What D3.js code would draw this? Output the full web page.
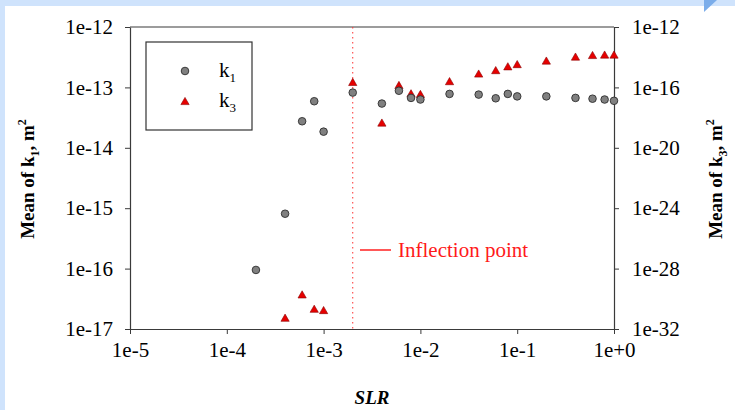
<!DOCTYPE html>
<html>
<head>
<meta charset="utf-8">
<script src="https://cdn.jsdelivr.net/npm/d3@7"></script>
<style>
  html, body { margin: 0; padding: 0; background: #ffffff; }
  svg { display: block; }
  text { font-family: "Liberation Serif", "Times New Roman", serif; }
</style>
</head>
<body>
<svg id="chart" width="735" height="410"></svg>
<script>
// Solid-to-liquid ratio (SLR) sampled for each permeability series
const slrK1 = [2e-4, 4e-4, 6e-4, 8e-4, 1e-3, 2e-3, 4e-3, 6e-3, 8e-3, 1e-2, 2e-2, 4e-2, 6e-2, 8e-2, 0.1, 0.2, 0.4, 0.6, 0.8, 1.0];
const meanK1 = [9.5e-17, 8.1e-16, 2.75e-14, 5.9e-14, 1.85e-14, 8.2e-14, 5.4e-14, 8.8e-14, 6.7e-14, 6.3e-14, 7.8e-14, 7.6e-14, 6.6e-14, 7.8e-14, 7.1e-14, 7.1e-14, 6.7e-14, 6.5e-14, 6.3e-14, 6.0e-14];

const slrK3 = [4e-4, 6e-4, 8e-4, 1e-3, 2e-3, 4e-3, 6e-3, 8e-3, 1e-2, 2e-2, 4e-2, 6e-2, 8e-2, 0.1, 0.2, 0.4, 0.6, 0.8, 1.0];
const meanK3 = [5.6e-32, 1.96e-30, 2.2e-31, 1.8e-31, 2.3e-16, 4.7e-19, 1.45e-16, 4.1e-17, 3.7e-17, 2.6e-16, 8.3e-16, 1.4e-15, 2.5e-15, 3.5e-15, 6e-15, 1.1e-14, 1.4e-14, 1.5e-14, 1.5e-14];

// Axis tick values
const xTicks = [1e-5, 1e-4, 1e-3, 1e-2, 1e-1, 1];
const yLeftTicks = [1e-17, 1e-16, 1e-15, 1e-14, 1e-13, 1e-12];
const yRightTicks = [1e-32, 1e-28, 1e-24, 1e-20, 1e-16, 1e-12];

const inflectionSLR = [2e-3];

const svg = d3.select("#chart");

// page frame
svg.append("rect").attr("x", 0).attr("y", 0).attr("width", 735).attr("height", 410).attr("fill", "#ffffff");
svg.append("rect").attr("x", 0).attr("y", 0).attr("width", 735).attr("height", 6).attr("fill", "#cfe3fc");
svg.append("rect").attr("x", 0).attr("y", 0).attr("width", 5).attr("height", 410).attr("fill", "#cfe3fc");
svg.append("path").attr("d", "M704,0L717,0L704,12Z").attr("fill", "#7badea");

const L = 130, R = 614, T = 27, B = 329;

const x = d3.scaleLog().domain([1e-5, 1]).range([L, R]);
const y1 = d3.scaleLog().domain([1e-17, 1e-12]).range([B, T]);
const y3 = d3.scaleLog().domain([1e-32, 1e-12]).range([B, T]);

const sciFmt = d => {
  const e = Math.round(Math.log10(d));
  return "1e" + (e >= 0 ? "+" + e : e);
};

const axisColor = "#3a3a3a";

function styleAxis(g) {
  g.select(".domain").attr("stroke", axisColor).attr("stroke-width", 1.2);
  g.selectAll(".tick line").attr("stroke", axisColor).attr("stroke-width", 1);
  g.selectAll(".tick text").attr("fill", "#000").attr("font-size", 21)
    .attr("font-family", "'Liberation Serif', 'Times New Roman', serif");
}

svg.append("g").attr("transform", `translate(0,${B})`)
  .call(d3.axisBottom(x).tickValues(xTicks).tickFormat(sciFmt).tickSize(5).tickSizeOuter(0).tickPadding(8))
  .call(styleAxis);

svg.append("g").attr("transform", `translate(${L},0)`)
  .call(d3.axisLeft(y1).tickValues(yLeftTicks).tickFormat(sciFmt).tickSize(5).tickSizeOuter(0).tickPadding(12))
  .call(styleAxis);

svg.append("g").attr("transform", `translate(${R},0)`)
  .call(d3.axisRight(y3).tickValues(yRightTicks).tickFormat(sciFmt).tickSize(5).tickSizeOuter(0).tickPadding(13))
  .call(styleAxis);

// top frame line
svg.append("line").attr("x1", L).attr("x2", R).attr("y1", T).attr("y2", T)
  .attr("stroke", axisColor).attr("stroke-width", 1.2);

// inflection point marker line
svg.selectAll("line.inflection").data(inflectionSLR).join("line")
  .attr("class", "inflection")
  .attr("x1", d => x(d)).attr("x2", d => x(d))
  .attr("y1", T).attr("y2", B)
  .attr("stroke", "#ff3030").attr("stroke-width", 1)
  .attr("stroke-dasharray", "1.5,3.5");

// triangle path centred on its bounding box
const triPath = (s) => `M0,${-s * 0.48}L${s * 0.55},${s * 0.48}L${-s * 0.55},${s * 0.48}Z`;

// k3 series (red triangles, right axis)
svg.append("g").selectAll("path").data(slrK3.map((s, i) => [s, meanK3[i]])).join("path")
  .attr("d", triPath(7.5))
  .attr("transform", d => `translate(${x(d[0])},${y3(d[1])})`)
  .attr("fill", "#e60000").attr("stroke", "#8a0000").attr("stroke-width", 0.6);

// k1 series (grey circles, left axis)
svg.append("g").selectAll("circle").data(slrK1.map((s, i) => [s, meanK1[i]])).join("circle")
  .attr("cx", d => x(d[0])).attr("cy", d => y1(d[1])).attr("r", 3.8)
  .attr("fill", "#808080").attr("stroke", "#2e2e2e").attr("stroke-width", 0.9);

// legend
const lg = svg.append("g");
lg.append("rect").attr("x", 146).attr("y", 42).attr("width", 106).attr("height", 88)
  .attr("fill", "#fff").attr("stroke", "#333").attr("stroke-width", 1.2);
lg.append("circle").attr("cx", 185).attr("cy", 71).attr("r", 3.8)
  .attr("fill", "#808080").attr("stroke", "#2e2e2e").attr("stroke-width", 0.9);
lg.append("path").attr("d", triPath(7.5)).attr("transform", "translate(185,101)")
  .attr("fill", "#e60000").attr("stroke", "#8a0000").attr("stroke-width", 0.6);

const legendItems = [["k", "1", 77], ["k", "3", 107]];
legendItems.forEach(([base, sub, yy]) => {
  const t = lg.append("text").attr("x", 219).attr("y", yy).attr("font-size", 21).attr("fill", "#000");
  t.append("tspan").text(base);
  t.append("tspan").attr("font-size", 13).attr("dy", 5).text(sub);
});

// inflection point label
svg.append("line").attr("x1", 360).attr("x2", 391).attr("y1", 250).attr("y2", 250)
  .attr("stroke", "#ff2020").attr("stroke-width", 1.5);
svg.append("text").attr("x", 398).attr("y", 257).attr("font-size", 21).attr("fill", "#ff1a1a")
  .text("Inflection point");

// axis titles
function yTitle(cx, cy, sub) {
  const t = svg.append("text")
    .attr("transform", `translate(${cx},${cy}) rotate(-90)`)
    .attr("text-anchor", "middle")
    .attr("font-size", 19).attr("font-weight", "bold").attr("fill", "#000");
  t.append("tspan").text("Mean of k");
  t.append("tspan").attr("font-size", 12).attr("dy", 5).text(sub);
  t.append("tspan").attr("dy", -5).text(", m");
  t.append("tspan").attr("font-size", 12).attr("dy", -8).text("2");
}
yTitle(34, 179, "1");
yTitle(722, 179, "3");

svg.append("text").attr("x", 372).attr("y", 404).attr("text-anchor", "middle")
  .attr("font-size", 19).attr("font-weight", "bold").attr("font-style", "italic").attr("fill", "#000")
  .text("SLR");
</script>
</body>
</html>
